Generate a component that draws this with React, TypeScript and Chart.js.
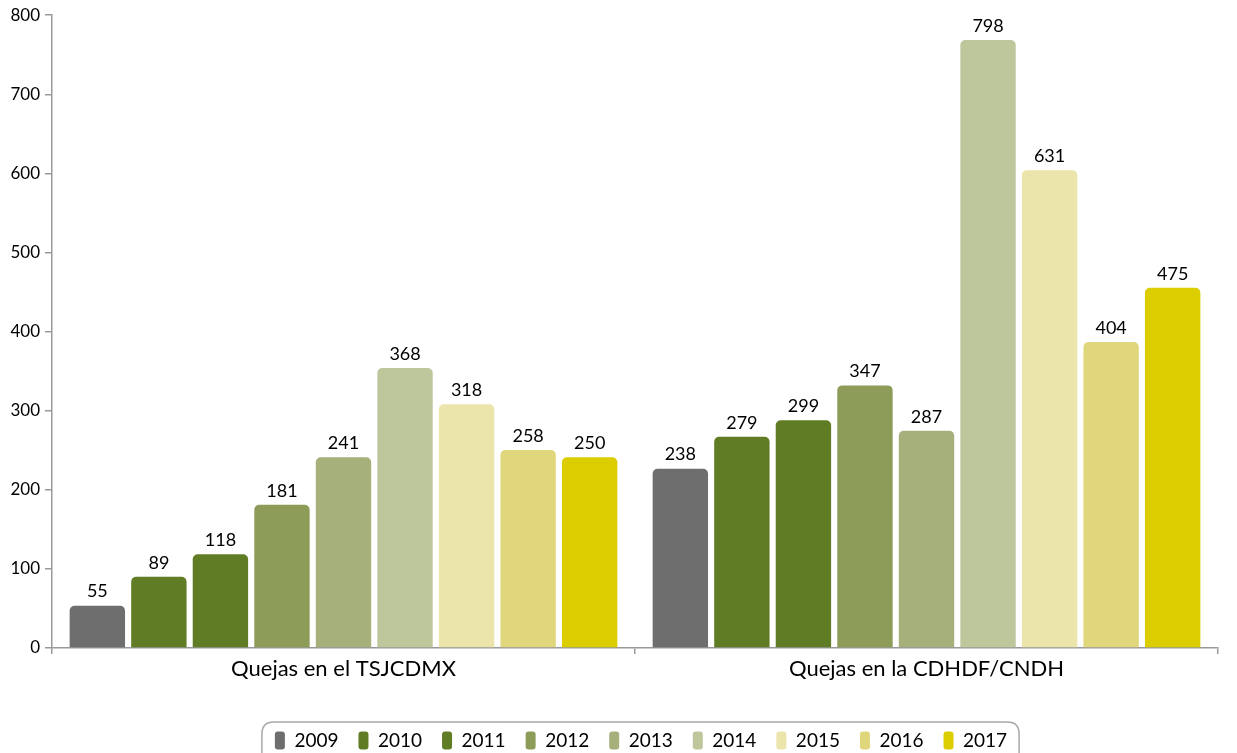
import React, { useEffect, useRef } from "react";
import { Chart, registerables } from "chart.js";

Chart.register(...registerables);

const categories = ["Quejas en el TSJCDMX", "Quejas en la CDHDF/CNDH"];
const years = ["2009", "2010", "2011", "2012", "2013", "2014", "2015", "2016", "2017"];
// Bar heights as drawn in the picture, by year
const tsjHeights = [53.5, 90, 118.5, 181, 241, 354, 308, 250.3, 241];
const cdhHeights = [226.7, 267, 288, 332, 274.7, 768.6, 604, 386.9, 455.5];
// Values printed above the bars, by year
const tsjLabels = [55, 89, 118, 181, 241, 368, 318, 258, 250];
const cdhLabels = [238, 279, 299, 347, 287, 798, 631, 404, 475];
const colors = ["#6e6e6e", "#607d26", "#607d26", "#8e9c5a", "#a6b07a", "#bec69c", "#ebe5ab", "#e0d77d", "#dccd00"];
const yTicks = [0, 100, 200, 300, 400, 500, 600, 700, 800];

const FONT = "Lato, 'Open Sans', sans-serif";

const valueLabelPlugin = {
  id: "valueLabels",
  afterDatasetsDraw(chart: any) {
    const ctx = chart.ctx;
    ctx.save();
    ctx.font = `18px ${FONT}`;
    ctx.fillStyle = "#000";
    ctx.textAlign = "center";
    ctx.textBaseline = "bottom";
    chart.data.datasets.forEach((ds: any, di: number) => {
      const meta = chart.getDatasetMeta(di);
      meta.data.forEach((el: any, i: number) => {
        const txt = String(i === 0 ? tsjLabels[di] : cdhLabels[di]);
        ctx.fillText(txt, el.x, el.y - 5);
      });
    });
    ctx.restore();
  },
};

const legendBoxPlugin = {
  id: "legendBox",
  afterLayout(chart: any) {
    const lg = chart.legend;
    if (lg) {
      lg.left += 32;
      lg.right += 32;
    }
  },
  afterDraw(chart: any) {
    const lg = chart.legend;
    if (!lg || !lg.legendHitBoxes || !lg.legendHitBoxes.length) return;
    const boxes = lg.legendHitBoxes;
    let l = Infinity, r = -Infinity, t = Infinity;
    boxes.forEach((b: any) => {
      l = Math.min(l, b.left);
      r = Math.max(r, b.left + b.width);
      t = Math.min(t, b.top);
    });
    const ctx = chart.ctx;
    const x0 = l - 13, x1 = r + 12, y0 = t - 9, y1 = chart.height + 20, rad = 12;
    ctx.save();
    ctx.strokeStyle = "#a8a8a8";
    ctx.lineWidth = 1.5;
    ctx.beginPath();
    ctx.moveTo(x0 + rad, y0);
    ctx.lineTo(x1 - rad, y0);
    ctx.quadraticCurveTo(x1, y0, x1, y0 + rad);
    ctx.lineTo(x1, y1);
    ctx.moveTo(x0, y1);
    ctx.lineTo(x0, y0 + rad);
    ctx.quadraticCurveTo(x0, y0, x0 + rad, y0);
    ctx.stroke();
    ctx.restore();
  },
};

export default function App() {
  const ref = useRef<HTMLCanvasElement>(null);
  useEffect(() => {
    document.body.style.margin = "0";
    if (!ref.current) return;
    const chart = new Chart(ref.current, {
      type: "bar",
      data: {
        labels: categories,
        datasets: years.map((y, i) => ({
          label: y,
          data: [tsjHeights[i], cdhHeights[i]],
          backgroundColor: colors[i],
          borderRadius: { topLeft: 5, topRight: 5, bottomLeft: 0, bottomRight: 0 },
          borderSkipped: false as any,
          barPercentage: 0.9,
          categoryPercentage: 0.95,
        })),
      },
      options: {
        animation: false,
        responsive: false,
        maintainAspectRatio: false,
        layout: { padding: { top: 6, right: 19, bottom: -7, left: 0 } },
        plugins: {
          tooltip: { enabled: false },
          legend: {
            position: "bottom",
            labels: {
              boxWidth: 10,
              boxHeight: 18,
              useBorderRadius: true,
              borderRadius: 3,
              padding: 20,
              color: "#000",
              font: { family: FONT, size: 19 },
            },
          },
        },
        scales: {
          x: {
            grid: { display: true, drawOnChartArea: false, drawTicks: true, tickLength: 6, color: "#999", lineWidth: 1.5 },
            border: { display: true, color: "#999", width: 1.5 },
            ticks: { color: "#000", font: { family: FONT, size: 22 }, padding: 2 },
            afterFit: (scale: any) => {
              scale.height = 63;
            },
          },
          y: {
            min: 0,
            max: 800,
            afterBuildTicks: (scale: any) => {
              scale.ticks = yTicks.map((v) => ({ value: v }));
            },
            grid: { display: true, drawOnChartArea: false, drawTicks: true, tickLength: 7, color: "#999", lineWidth: 1.5 },
            border: { display: true, color: "#999", width: 1.5 },
            ticks: { color: "#000", font: { family: FONT, size: 17 }, padding: 5 },
            afterFit: (scale: any) => {
              scale.width = 52;
            },
          },
        },
      },
      plugins: [valueLabelPlugin, legendBoxPlugin],
    });
    return () => chart.destroy();
  }, []);
  return (
    <div style={{ width: 1237, height: 753 }}>
      <canvas ref={ref} width={1237} height={753} style={{ display: "block" }} />
    </div>
  );
}
